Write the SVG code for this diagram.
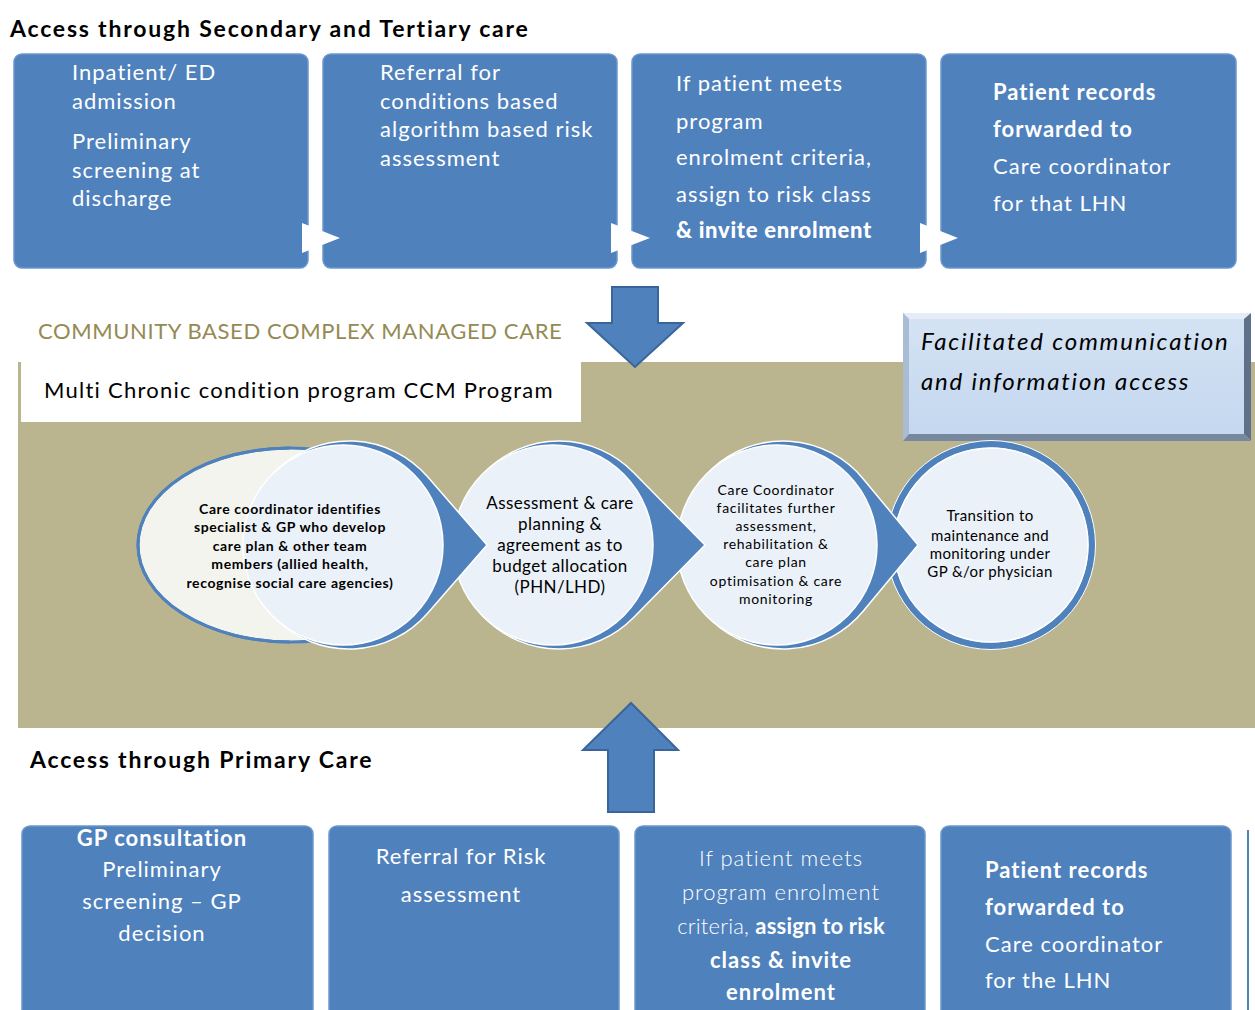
<svg xmlns="http://www.w3.org/2000/svg" width="1255" height="1010" viewBox="0 0 1255 1010">
<defs>
<style>
.t{font-family:Lato,Carlito,"Liberation Sans",sans-serif}
.h{font-family:Lato,Carlito,"Liberation Sans",sans-serif;font-size:23px;font-weight:bold;fill:#000;letter-spacing:1.8px}
.box{fill:#4F81BD;stroke:#6B97CC;stroke-width:1.5}
.bt{font-family:Lato,Carlito,"Liberation Sans",sans-serif;font-size:22px;fill:#fff;letter-spacing:1px}
.tri{fill:#fff}
.arr{fill:#4F81BD;stroke:#3A659A;stroke-width:2}
.blue{fill:#4F81BD;stroke:#fff;stroke-width:1.5}
.lc{fill:#EBF1F8;stroke:#fff;stroke-width:1.5}
.ct{font-family:Lato,Carlito,"Liberation Sans",sans-serif;fill:#000;text-anchor:middle}
</style>
<linearGradient id="fg" x1="0" y1="0" x2="0" y2="1">
<stop offset="0" stop-color="#D5E3F4"/>
<stop offset="1" stop-color="#C3D7EF"/>
</linearGradient>
</defs>

<!-- Section headings -->
<text class="h" x="10" y="37">Access through Secondary and Tertiary care</text>

<!-- Top row -->
<g id="top1">
<rect class="box" x="14" y="54" width="294" height="214" rx="8"/>
<text class="bt" x="72" y="80">Inpatient/ ED</text>
<text class="bt" x="72" y="109">admission</text>
<text class="bt" x="72" y="149">Preliminary</text>
<text class="bt" x="72" y="178">screening at</text>
<text class="bt" x="72" y="206">discharge</text>
</g>
<g id="top2">
<rect class="box" x="323" y="54" width="294" height="214" rx="8"/>
<text class="bt" x="380" y="80">Referral for</text>
<text class="bt" x="380" y="109">conditions based</text>
<text class="bt" x="380" y="137">algorithm based risk</text>
<text class="bt" x="380" y="166">assessment</text>
</g>
<g id="top3">
<rect class="box" x="632" y="54" width="294" height="214" rx="8"/>
<text class="bt" x="676" y="91">If patient meets</text>
<text class="bt" x="676" y="129">program</text>
<text class="bt" x="676" y="165">enrolment criteria,</text>
<text class="bt" x="676" y="202">assign to risk class</text>
<text class="bt" x="676" y="238" style="font-weight:900;letter-spacing:0.7px">&amp; invite enrolment</text>
</g>
<g id="top4">
<rect class="box" x="941" y="54" width="295" height="214" rx="8"/>
<text class="bt" x="993" y="100" font-weight="bold">Patient records</text>
<text class="bt" x="993" y="137" font-weight="bold">forwarded to</text>
<text class="bt" x="993" y="174">Care coordinator</text>
<text class="bt" x="993" y="211">for that LHN</text>
</g>

<!-- Community section -->
<text class="t" x="38" y="339" font-size="22" fill="#948A54" letter-spacing="0.6">COMMUNITY BASED COMPLEX MANAGED CARE</text>
<rect x="18" y="362" width="1237" height="366" fill="#BAB48F"/>
<rect x="21" y="360" width="560" height="62" fill="#fff"/>
<text class="t" x="44" y="398" font-size="22" fill="#000" letter-spacing="1.25">Multi Chronic condition program CCM Program</text>

<g id="facilitated">
<rect x="903" y="313" width="348" height="128" fill="url(#fg)"/>
<polygon points="903,313 1251,313 1244,319 909,319" fill="#E3ECF7"/>
<polygon points="903,313 909,319 909,434 903,441" fill="#A9BCD3"/>
<polygon points="1251,313 1251,441 1244,434 1244,319" fill="#5F7189"/>
<polygon points="903,441 909,434 1244,434 1251,441" fill="#76879E"/>
<text class="t" x="921" y="350" font-size="24" font-style="italic" fill="#000" letter-spacing="1.8">Facilitated communication</text>
<text class="t" x="921" y="390" font-size="24" font-style="italic" fill="#000" letter-spacing="1.8">and information access</text>
</g>

<!-- Process circles -->
<g id="stage4">
<circle cx="991" cy="545" r="101" fill="#EBF1F8" stroke="#4F81BD" stroke-width="7"/>
<circle cx="991" cy="545" r="97" fill="none" stroke="#fff" stroke-width="1.5"/>
<circle cx="991" cy="545" r="104.5" fill="none" stroke="#fff" stroke-width="1"/>
<text class="ct" font-size="15" letter-spacing="0.4"><tspan x="990" y="521">Transition to</tspan><tspan x="990" y="541">maintenance and</tspan><tspan x="990" y="559">monitoring under</tspan><tspan x="990" y="577">GP &amp;/or  physician</tspan></text>
</g>
<g id="stage3">
<path class="blue" d="M918,545 L863.1,478.7 A104,104 0 1 0 863.1,611.3 Z"/>
<circle class="lc" cx="777" cy="545" r="100"/>
<text class="ct" font-size="14" letter-spacing="0.7"><tspan x="776" y="495">Care Coordinator</tspan><tspan x="776" y="513">facilitates further</tspan><tspan x="776" y="531">assessment,</tspan><tspan x="776" y="549">rehabilitation &amp;</tspan><tspan x="776" y="567">care plan</tspan><tspan x="776" y="586">optimisation &amp; care</tspan><tspan x="776" y="604">monitoring</tspan></text>
</g>
<g id="stage2">
<path class="blue" d="M705,545 L633.1,472 A104,104 0 1 0 633.1,618 Z"/>
<circle class="lc" cx="553" cy="545" r="100"/>
<text class="ct" font-size="17" letter-spacing="0.4"><tspan x="560" y="509">Assessment &amp; care</tspan><tspan x="560" y="530">planning &amp;</tspan><tspan x="560" y="551">agreement as to</tspan><tspan x="560" y="572">budget allocation</tspan><tspan x="560" y="593">(PHN/LHD)</tspan></text>
</g>
<g id="stage1">
<ellipse cx="290" cy="545" rx="152" ry="97" fill="#F4F4EF" stroke="#4F81BD" stroke-width="3"/>
<path class="blue" d="M487,545 L427.4,476.6 A104,104 0 1 0 427.4,613.4 Z"/>
<path d="M290,448 A152,97 0 0 0 290,642" fill="none" stroke="#4F81BD" stroke-width="3"/>
<circle class="lc" cx="343" cy="545" r="100"/>
<text class="ct" font-size="14" font-weight="bold" letter-spacing="0.6"><tspan x="290" y="514">Care coordinator identifies</tspan><tspan x="290" y="532">specialist &amp; GP who develop</tspan><tspan x="290" y="551">care plan &amp; other team</tspan><tspan x="290" y="569">members (allied health,</tspan><tspan x="290" y="588">recognise social care agencies)</tspan></text>
</g>

<!-- Connectors (block arrows and chevrons) -->
<g id="connectors">
<polygon class="arr" points="612,287 658,287 658,323 683,323 635,367 587,323 612,323"/>
<polygon class="arr" points="608,812 654,812 654,750 678,750 631,703 583,750 608,750"/>
<polygon class="tri" points="302,223 340,238 302,253"/>
<polygon class="tri" points="611,223 650,238 611,253"/>
<polygon class="tri" points="920,223 958,238 920,253"/>
<polygon class="tri" points="308,973 345,988 308,1003"/>
<polygon class="tri" points="614,973 651,988 614,1003"/>
<polygon class="tri" points="920,973 957,988 920,1003"/>
<polygon class="tri" points="1225,975 1250,988 1225,1001"/>
</g>

<text class="h" x="30" y="768">Access through Primary Care</text>

<!-- Bottom row -->
<g id="bot1">
<rect class="box" x="22" y="826" width="291" height="200" rx="8"/>
<text class="bt" text-anchor="middle" font-weight="bold" x="162" y="846">GP consultation</text>
<text class="bt" text-anchor="middle" x="162" y="877">Preliminary</text>
<text class="bt" text-anchor="middle" x="162" y="909">screening – GP</text>
<text class="bt" text-anchor="middle" x="162" y="941">decision</text>
</g>
<g id="bot2">
<rect class="box" x="329" y="826" width="290" height="200" rx="8"/>
<text class="bt" text-anchor="middle" x="461" y="864">Referral for Risk</text>
<text class="bt" text-anchor="middle" x="461" y="902">assessment</text>
</g>
<g id="bot3">
<rect class="box" x="635" y="826" width="290" height="200" rx="8"/>
<text class="bt" text-anchor="middle" font-weight="300" x="781" y="866">If patient meets</text>
<text class="bt" text-anchor="middle" font-weight="300" x="781" y="900">program enrolment</text>
<text class="bt" text-anchor="middle" x="781" y="934" style="letter-spacing:0.2px"><tspan font-weight="300">criteria, </tspan><tspan font-weight="bold">assign to risk</tspan></text>
<text class="bt" text-anchor="middle" font-weight="bold" x="781" y="968">class &amp; invite</text>
<text class="bt" text-anchor="middle" font-weight="bold" x="781" y="1000">enrolment</text>
</g>
<g id="bot4">
<rect class="box" x="941" y="826" width="290" height="200" rx="8"/>
<text class="bt" x="985" y="878" font-weight="bold">Patient records</text>
<text class="bt" x="985" y="915" font-weight="bold">forwarded to</text>
<text class="bt" x="985" y="952">Care coordinator</text>
<text class="bt" x="985" y="988">for the LHN</text>
</g>
<g id="bot5">
<line x1="1248" y1="830" x2="1248" y2="1010" stroke="#4F81BD" stroke-width="2"/>
</g>
</svg>
